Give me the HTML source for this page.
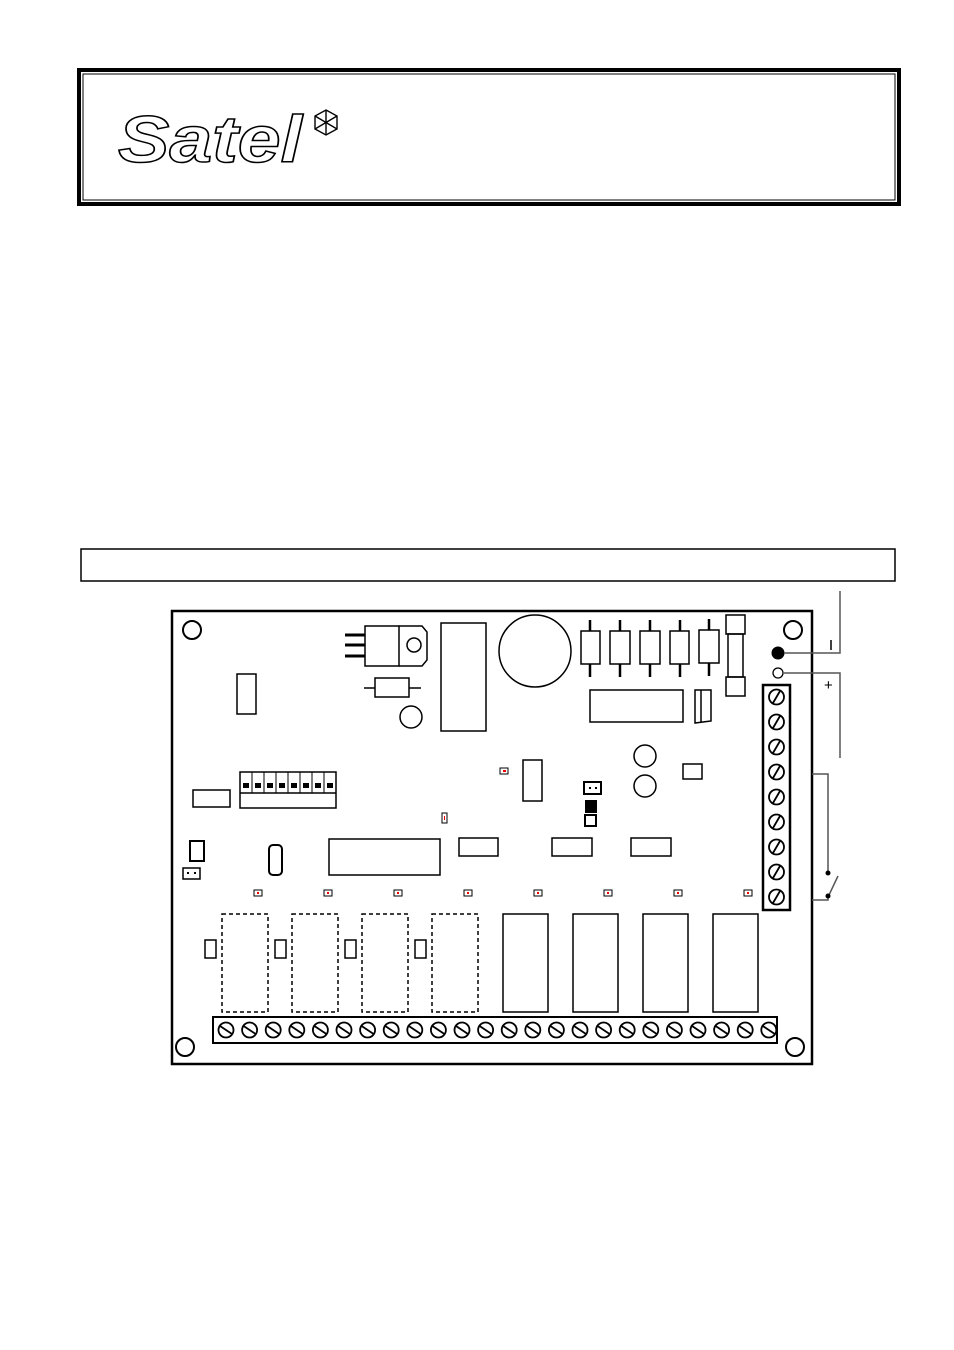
<!DOCTYPE html>
<html><head><meta charset="utf-8"><style>html,body{margin:0;padding:0;background:#fff}svg{display:block}</style></head>
<body>
<svg width="954" height="1350" viewBox="0 0 954 1350" xmlns="http://www.w3.org/2000/svg" fill="none" stroke="#000">
<rect x="79" y="70" width="820" height="134" stroke-width="4"/>
<rect x="83" y="74" width="812" height="126" stroke-width="1"/>
<text x="118" y="162" font-family="Liberation Sans, sans-serif" font-size="66" font-weight="bold" font-style="italic" fill="#fff" stroke="#000" stroke-width="1.5" textLength="184" lengthAdjust="spacingAndGlyphs">Satel</text>
<g stroke-width="1.4"><polygon points="326,110 337,116 337,129 326,135 315,129 315,116"/><line x1="315" y1="116" x2="337" y2="129"/><line x1="337" y1="116" x2="315" y2="129"/><line x1="326" y1="110" x2="326" y2="135"/></g>
<rect x="81" y="549" width="814" height="32" stroke-width="1.5"/>
<rect x="172" y="611" width="640" height="453" stroke-width="2.5"/>
<g stroke-width="2"><circle cx="192" cy="630" r="9"/><circle cx="793" cy="630" r="9"/><circle cx="185" cy="1047" r="9"/><circle cx="795" cy="1047" r="9"/></g>
<g stroke-width="1.5">
<rect x="365" y="626" width="34" height="40"/><path d="M399 626 H422 L427 632 V660 L422 666 H399"/><circle cx="414" cy="645" r="7"/>
<rect x="375" y="678" width="34" height="19"/><line x1="364" y1="688" x2="375" y2="688"/><line x1="409" y1="688" x2="421" y2="688"/>
<circle cx="411" cy="717" r="11"/>
<rect x="441" y="623" width="45" height="108"/>
<circle cx="535" cy="651" r="36"/>
<rect x="237" y="674" width="19" height="40"/>
<rect x="240" y="772" width="96" height="36"/><line x1="240" y1="793" x2="336" y2="793"/>
<rect x="193" y="790" width="37" height="17"/>
<rect x="190" y="841" width="14" height="20" stroke-width="2"/>
<rect x="183" y="868" width="17" height="11"/>
<rect x="269" y="845" width="13" height="30" rx="4" stroke-width="2"/>
<rect x="329" y="839" width="111" height="36"/>
<rect x="459" y="838" width="39" height="18"/><rect x="552" y="838" width="40" height="18"/><rect x="631" y="838" width="40" height="18"/>
<rect x="523" y="760" width="19" height="41"/>
<rect x="584" y="782" width="17" height="12" stroke-width="2"/>
<rect x="585" y="815" width="11" height="11" stroke-width="2"/>
<circle cx="645" cy="756" r="11"/><circle cx="645" cy="786" r="11"/>
<rect x="683" y="764" width="19" height="15"/>
<rect x="590" y="690" width="93" height="32"/>
<path d="M695 690 H711 V721 L695 723 Z M701 690 V722"/>
<rect x="726" y="615" width="19" height="19"/><rect x="728" y="634" width="15" height="43"/><rect x="726" y="677" width="19" height="19"/>
</g>
<g stroke-width="3"><line x1="345" y1="635" x2="365" y2="635"/><line x1="345" y1="645" x2="365" y2="645"/><line x1="345" y1="656" x2="365" y2="656"/></g>
<g fill="#000" stroke="none">
<rect x="243" y="783" width="6" height="5"/><rect x="255" y="783" width="6" height="5"/><rect x="267" y="783" width="6" height="5"/><rect x="279" y="783" width="6" height="5"/><rect x="291" y="783" width="6" height="5"/><rect x="303" y="783" width="6" height="5"/><rect x="315" y="783" width="6" height="5"/><rect x="327" y="783" width="6" height="5"/>
<rect x="585" y="800" width="12" height="13"/>
<rect x="187" y="872" width="2" height="2"/><rect x="194" y="872" width="2" height="2"/>
<rect x="589" y="787" width="2" height="2"/><rect x="595" y="787" width="2" height="2"/>
</g>
<g stroke-width="1"><line x1="252" y1="772" x2="252" y2="793"/><line x1="264" y1="772" x2="264" y2="793"/><line x1="276" y1="772" x2="276" y2="793"/><line x1="288" y1="772" x2="288" y2="793"/><line x1="300" y1="772" x2="300" y2="793"/><line x1="312" y1="772" x2="312" y2="793"/><line x1="324" y1="772" x2="324" y2="793"/></g>
<g stroke-width="1.5">
<rect x="581" y="631" width="19" height="33"/><rect x="610" y="631" width="20" height="33"/><rect x="640" y="631" width="20" height="33"/><rect x="670" y="631" width="19" height="33"/><rect x="699" y="630" width="20" height="33"/>
</g>
<g stroke-width="2.5">
<line x1="590" y1="620" x2="590" y2="631"/><line x1="590" y1="664" x2="590" y2="677"/>
<line x1="620" y1="620" x2="620" y2="631"/><line x1="620" y1="664" x2="620" y2="677"/>
<line x1="650" y1="620" x2="650" y2="631"/><line x1="650" y1="664" x2="650" y2="677"/>
<line x1="680" y1="620" x2="680" y2="631"/><line x1="680" y1="664" x2="680" y2="677"/>
<line x1="709" y1="619" x2="709" y2="630"/><line x1="709" y1="663" x2="709" y2="676"/>
</g>
<g stroke-width="1"><rect x="500" y="768" width="8" height="6"/><rect x="442" y="813" width="5" height="10"/></g>
<g fill="#e00" stroke="none"><rect x="503" y="770" width="3" height="2"/><rect x="444" y="816" width="1" height="4"/></g>
<g stroke-width="1"><rect x="254" y="890" width="8" height="6"/><rect x="324" y="890" width="8" height="6"/><rect x="394" y="890" width="8" height="6"/><rect x="464" y="890" width="8" height="6"/><rect x="534" y="890" width="8" height="6"/><rect x="604" y="890" width="8" height="6"/><rect x="674" y="890" width="8" height="6"/><rect x="744" y="890" width="8" height="6"/></g>
<g fill="#e00" stroke="none"><rect x="257" y="892" width="2" height="2"/><rect x="327" y="892" width="2" height="2"/><rect x="397" y="892" width="2" height="2"/><rect x="467" y="892" width="2" height="2"/><rect x="537" y="892" width="2" height="2"/><rect x="607" y="892" width="2" height="2"/><rect x="677" y="892" width="2" height="2"/><rect x="747" y="892" width="2" height="2"/></g>
<g stroke-width="1.5" stroke-dasharray="4,3"><rect x="222" y="914" width="46" height="98"/><rect x="292" y="914" width="46" height="98"/><rect x="362" y="914" width="46" height="98"/><rect x="432" y="914" width="46" height="98"/></g>
<g stroke-width="1.5"><rect x="503" y="914" width="45" height="98"/><rect x="573" y="914" width="45" height="98"/><rect x="643" y="914" width="45" height="98"/><rect x="713" y="914" width="45" height="98"/>
<rect x="205" y="940" width="11" height="18"/><rect x="275" y="940" width="11" height="18"/><rect x="345" y="940" width="11" height="18"/><rect x="415" y="940" width="11" height="18"/></g>
<rect x="213" y="1017" width="564" height="26" stroke-width="2"/>
<g stroke-width="1.8">
<circle cx="226" cy="1030" r="7.5"/><circle cx="249.6" cy="1030" r="7.5"/><circle cx="273.2" cy="1030" r="7.5"/><circle cx="296.8" cy="1030" r="7.5"/><circle cx="320.4" cy="1030" r="7.5"/><circle cx="344" cy="1030" r="7.5"/><circle cx="367.6" cy="1030" r="7.5"/><circle cx="391.2" cy="1030" r="7.5"/><circle cx="414.8" cy="1030" r="7.5"/><circle cx="438.4" cy="1030" r="7.5"/><circle cx="462" cy="1030" r="7.5"/><circle cx="485.6" cy="1030" r="7.5"/><circle cx="509.2" cy="1030" r="7.5"/><circle cx="532.8" cy="1030" r="7.5"/><circle cx="556.4" cy="1030" r="7.5"/><circle cx="580" cy="1030" r="7.5"/><circle cx="603.6" cy="1030" r="7.5"/><circle cx="627.2" cy="1030" r="7.5"/><circle cx="650.8" cy="1030" r="7.5"/><circle cx="674.4" cy="1030" r="7.5"/><circle cx="698" cy="1030" r="7.5"/><circle cx="721.6" cy="1030" r="7.5"/><circle cx="745.2" cy="1030" r="7.5"/><circle cx="768.8" cy="1030" r="7.5"/>
<path d="M220 1026 l12 8 M243.6 1026 l12 8 M267.2 1026 l12 8 M290.8 1026 l12 8 M314.4 1026 l12 8 M338 1026 l12 8 M361.6 1026 l12 8 M385.2 1026 l12 8 M408.8 1026 l12 8 M432.4 1026 l12 8 M456 1026 l12 8 M479.6 1026 l12 8 M503.2 1026 l12 8 M526.8 1026 l12 8 M550.4 1026 l12 8 M574 1026 l12 8 M597.6 1026 l12 8 M621.2 1026 l12 8 M644.8 1026 l12 8 M668.4 1026 l12 8 M692 1026 l12 8 M715.6 1026 l12 8 M739.2 1026 l12 8 M762.8 1026 l12 8"/>
</g>
<rect x="763" y="685" width="27" height="225" stroke-width="2.5"/>
<g stroke-width="1.8">
<circle cx="776.5" cy="697" r="7.5"/><circle cx="776.5" cy="722" r="7.5"/><circle cx="776.5" cy="747" r="7.5"/><circle cx="776.5" cy="772" r="7.5"/><circle cx="776.5" cy="797" r="7.5"/><circle cx="776.5" cy="822" r="7.5"/><circle cx="776.5" cy="847" r="7.5"/><circle cx="776.5" cy="872" r="7.5"/><circle cx="776.5" cy="897" r="7.5"/>
<path d="M773 703 l7 -12 M773 728 l7 -12 M773 753 l7 -12 M773 778 l7 -12 M773 803 l7 -12 M773 828 l7 -12 M773 853 l7 -12 M773 878 l7 -12 M773 903 l7 -12"/>
</g>
<circle cx="778" cy="653" r="6" fill="#000"/>
<circle cx="778" cy="673" r="5" stroke-width="1.3"/>
<g stroke="#555" stroke-width="1.5">
<polyline points="784,653 840,653 840,591"/>
<polyline points="784,673 840,673 840,758"/>
<polyline points="812,774 828,774 828,873"/>
<polyline points="812,900 828,900 828,896"/>
<line x1="829" y1="895" x2="838" y2="876"/>
</g>
<circle cx="828" cy="873" r="2.5" fill="#000" stroke="none"/>
<circle cx="828" cy="896" r="2.5" fill="#000" stroke="none"/>
<line x1="831" y1="640" x2="831" y2="650" stroke-width="1.5"/>
<text x="824" y="690" font-family="Liberation Sans, sans-serif" font-size="15" fill="#000" stroke="none">+</text>
</svg>
</body></html>
